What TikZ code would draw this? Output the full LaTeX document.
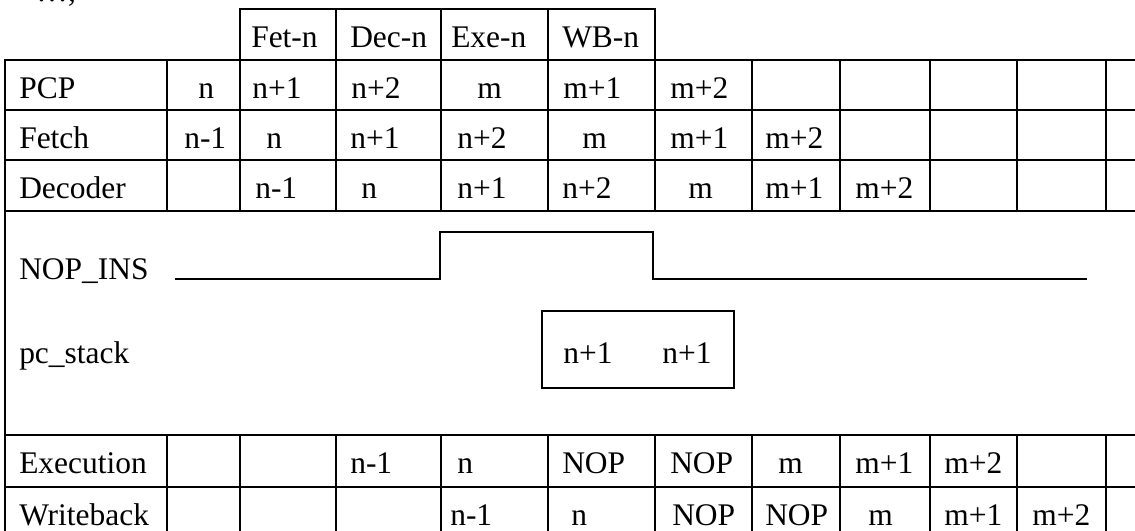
\documentclass[tikz,border=0pt]{standalone}
\usepackage{fontspec}
\setmainfont{Liberation Serif}

\begin{document}
\begin{tikzpicture}[x=0.75pt,y=0.75pt,yscale=-1,xscale=1,
  rule/.style={line width=1.9pt, line cap=rect},
  wave/.style={line width=1.6pt},
  cell/.style={anchor=base west, inner sep=0.75pt, font=\fontsize{23.6}{28}\selectfont}]
\useasboundingbox (0,0) rectangle (1135,531);

%Straight Lines: header cells
\draw [rule] (240,60) -- (240,9) -- (655,9) -- (655,60) (336,9) -- (336,60) (441,9) -- (441,60) (548,9) -- (548,60) ;
%Straight Lines: row rules
\draw [rule] (5,60) -- (1140,60) (5,110) -- (1140,110) (5,160) -- (1140,160) (5,211) -- (1140,211) (5,435) -- (1140,435) (5,487) -- (1140,487) ;
%Straight Lines: left border
\draw [rule] (5,60) -- (5,540) ;
%Straight Lines: column rules, upper block
\draw [rule] (167,60) -- (167,211) (240,60) -- (240,211) (336,60) -- (336,211) (441,60) -- (441,211) (548,60) -- (548,211) (655,60) -- (655,211) (752,60) -- (752,211) (840,60) -- (840,211) (930,60) -- (930,211) (1017,60) -- (1017,211) (1106,60) -- (1106,211) ;
%Straight Lines: column rules, lower block
\draw [rule] (167,435) -- (167,540) (240,435) -- (240,540) (336,435) -- (336,540) (441,435) -- (441,540) (548,435) -- (548,540) (655,435) -- (655,540) (752,435) -- (752,540) (840,435) -- (840,540) (930,435) -- (930,540) (1017,435) -- (1017,540) (1106,435) -- (1106,540) ;

%Straight Lines: NOP_INS pulse
\draw [wave] (175,279) -- (440,279) -- (440,232) -- (653,232) -- (653,279) -- (1087,279) ;
%Shape: Rectangle, pc_stack
\draw [wave] (542,311) rectangle (734,388) ;

% Text Node
\draw (35,2) node [cell] (dots) {…;};
% Header
\draw (250,48) node [cell] (hfet) {Fet-n};
\draw (349,48) node [cell] (hdec) {Dec-n};
\draw (450,48) node [cell] (hexe) {Exe-n};
\draw (561,48) node [cell] (hwb) {WB-n};
% PCP row
\draw (18,99) node [cell] (pcp) {PCP};
\draw (197,99) node [cell] (pcp1) {n};
\draw (251,99) node [cell] (pcp2) {n+1};
\draw (350,99) node [cell] (pcp3) {n+2};
\draw (476,99) node [cell] (pcp4) {m};
\draw (562,99) node [cell] (pcp5) {m+1};
\draw (669,99) node [cell] (pcp6) {m+2};
% Fetch row
\draw (18,149) node [cell] (fet) {Fetch};
\draw (183,149) node [cell] (fet1) {n-1};
\draw (265,149) node [cell] (fet2) {n};
\draw (349,149) node [cell] (fet3) {n+1};
\draw (456,149) node [cell] (fet4) {n+2};
\draw (581,149) node [cell] (fet5) {m};
\draw (669,149) node [cell] (fet6) {m+1};
\draw (764,149) node [cell] (fet7) {m+2};
% Decoder row
\draw (18,199) node [cell] (dec) {Decoder};
\draw (254,199) node [cell] (dec2) {n-1};
\draw (360,199) node [cell] (dec3) {n};
\draw (456,199) node [cell] (dec4) {n+1};
\draw (561,199) node [cell] (dec5) {n+2};
\draw (687,199) node [cell] (dec6) {m};
\draw (764,199) node [cell] (dec7) {m+1};
\draw (854,199) node [cell] (dec8) {m+2};
% Signals
\draw (18,279) node [cell] (nopins) {NOP\_INS};
\draw (18,363) node [cell] (pcstack) {pc\_stack};
\draw (562,363) node [cell] (stk1) {n+1};
\draw (661,363) node [cell] (stk2) {n+1};
% Execution row
\draw (18,473) node [cell] (exe) {Execution};
\draw (349,473) node [cell] (exe3) {n-1};
\draw (456,473) node [cell] (exe4) {n};
\draw (561,473) node [cell] (exe5) {NOP};
\draw (669,473) node [cell] (exe6) {NOP};
\draw (777,473) node [cell] (exe7) {m};
\draw (854,473) node [cell] (exe8) {m+1};
\draw (943,473) node [cell] (exe9) {m+2};
% Writeback row
\draw (18,525) node [cell] (wb) {Writeback};
\draw (449,525) node [cell] (wb4) {n-1};
\draw (570,525) node [cell] (wb5) {n};
\draw (671,525) node [cell] (wb6) {NOP};
\draw (764,525) node [cell] (wb7) {NOP};
\draw (867,525) node [cell] (wb8) {m};
\draw (943,525) node [cell] (wb9) {m+1};
\draw (1031,525) node [cell] (wb10) {m+2};

\end{tikzpicture}
\end{document}
